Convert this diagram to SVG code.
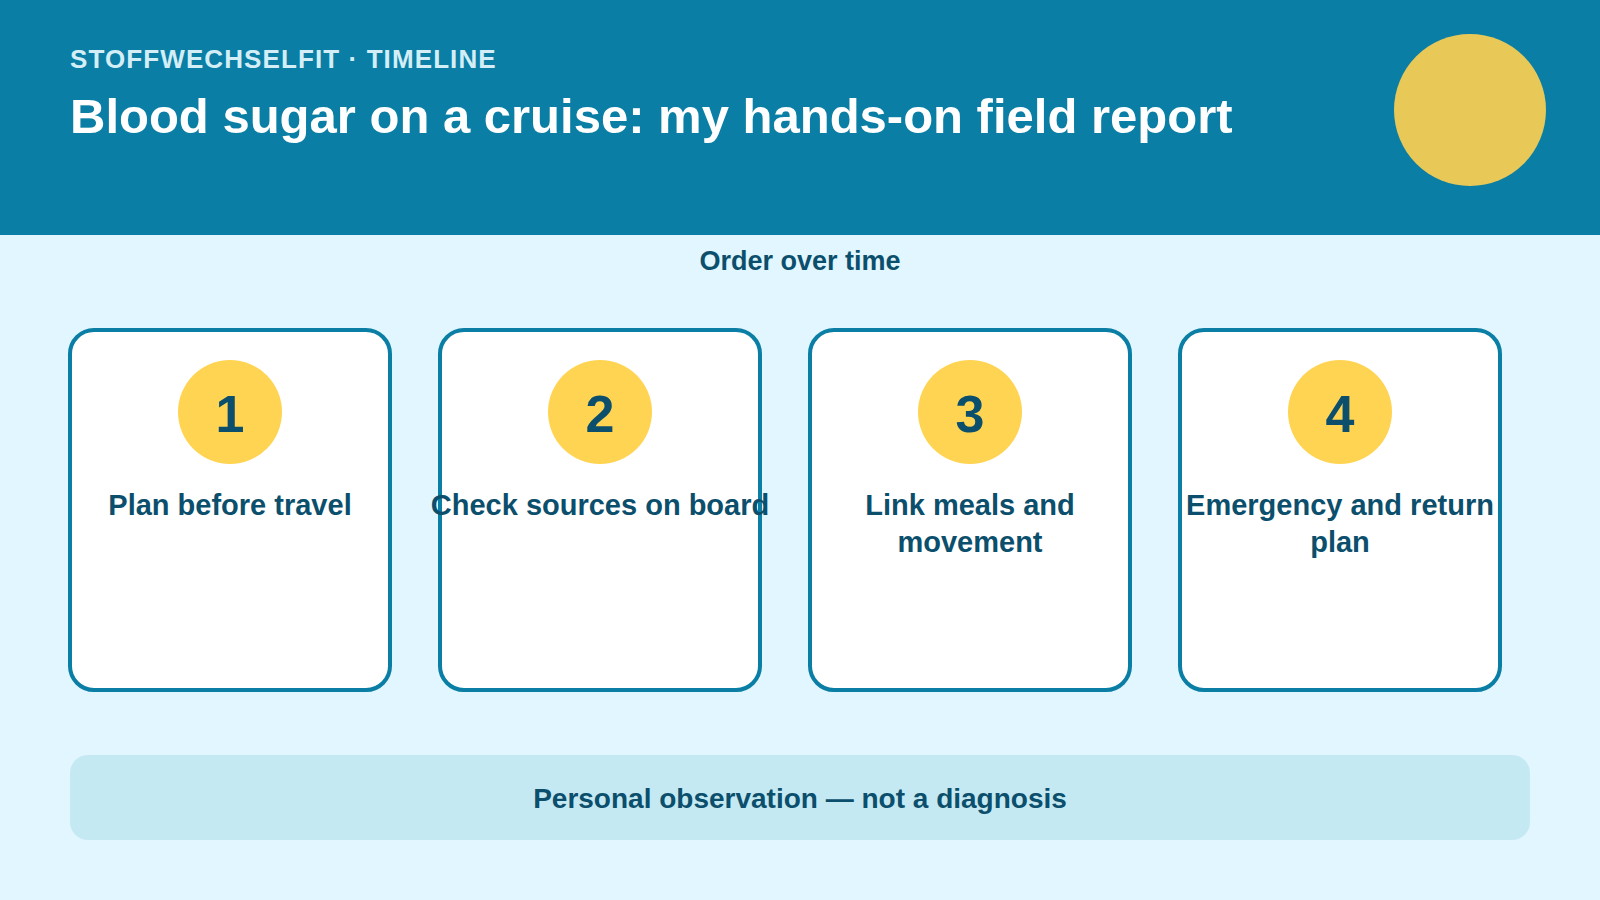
<svg xmlns="http://www.w3.org/2000/svg" width="1600" height="900" viewBox="0 0 1600 900">
<style>
text{font-family:"Liberation Sans",Arial,sans-serif;font-weight:bold}
.card{fill:#FFFFFF;stroke:#0A7EA4;stroke-width:4}
.badge{fill:#FFD452}
.num{font-size:52px;fill:#0B4F6C;text-anchor:middle}
.lbl{font-size:29px;fill:#0B4F6C;text-anchor:middle}
</style>
<rect x="0" y="0" width="1600" height="900" fill="#E1F6FE"/>
<g id="header">
<rect x="0" y="0" width="1600" height="235" fill="#0A7EA4"/>
<circle cx="1470" cy="110" r="76" fill="#E8C958"/>
<text x="70" y="68" font-size="26" letter-spacing="1.1" fill="#D4EEF7">STOFFWECHSELFIT · TIMELINE</text>
<text x="70" y="133" font-size="49" fill="#FFFFFF">Blood sugar on a cruise: my hands-on field report</text>
</g>
<text x="800" y="270" font-size="27" fill="#0B4F6C" text-anchor="middle">Order over time</text>
<g id="connectors"></g>
<g id="step1">
<rect class="card" x="70" y="330" width="320" height="360" rx="24"/>
<circle class="badge" cx="230" cy="412" r="52"/>
<text class="num" x="230" y="432">1</text>
<text class="lbl" x="230" y="515">Plan before travel</text>
</g>
<g id="step2">
<rect class="card" x="440" y="330" width="320" height="360" rx="24"/>
<circle class="badge" cx="600" cy="412" r="52"/>
<text class="num" x="600" y="432">2</text>
<text class="lbl" x="600" y="515">Check sources on board</text>
</g>
<g id="step3">
<rect class="card" x="810" y="330" width="320" height="360" rx="24"/>
<circle class="badge" cx="970" cy="412" r="52"/>
<text class="num" x="970" y="432">3</text>
<text class="lbl" x="970" y="515">Link meals and</text>
<text class="lbl" x="970" y="552">movement</text>
</g>
<g id="step4">
<rect class="card" x="1180" y="330" width="320" height="360" rx="24"/>
<circle class="badge" cx="1340" cy="412" r="52"/>
<text class="num" x="1340" y="432">4</text>
<text class="lbl" x="1340" y="515">Emergency and return</text>
<text class="lbl" x="1340" y="552">plan</text>
</g>
<g id="footer">
<rect x="70" y="755" width="1460" height="85" rx="18" fill="#C5E9F3"/>
<text x="800" y="808" font-size="28" fill="#0B4F6C" text-anchor="middle">Personal observation — not a diagnosis</text>
</g>
</svg>
